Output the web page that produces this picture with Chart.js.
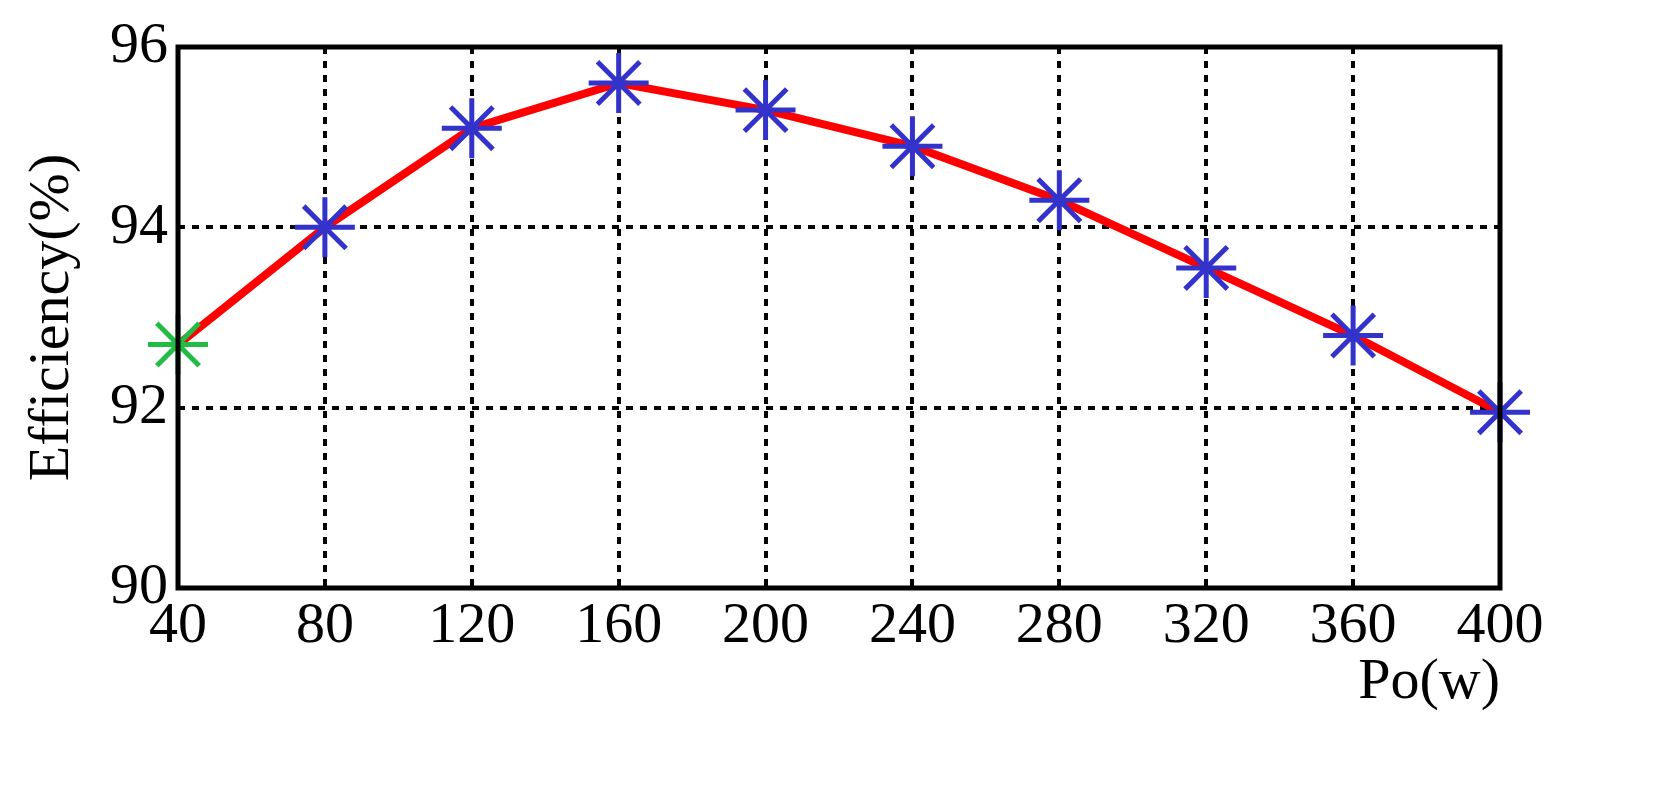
<!DOCTYPE html>
<html>
<head>
<meta charset="utf-8">
<script src="https://cdn.jsdelivr.net/npm/chart.js@4"></script>
<style>
  html, body { margin: 0; padding: 0; background: #fff; }
  #wrap { width: 1680px; height: 811px; }
</style>
</head>
<body>
<div id="wrap"><canvas id="eff"></canvas></div>
<script>
const power = [40, 80, 120, 160, 200, 240, 280, 320, 360, 400];
const efficiency = [92.7, 94.0, 95.1, 95.6, 95.3, 94.9, 94.3, 93.55, 92.8, 91.95];
const markerColors = ['#22bb44', '#3333cc', '#3333cc', '#3333cc', '#3333cc', '#3333cc', '#3333cc', '#3333cc', '#3333cc', '#3333cc'];

const points = power.map((p, i) => ({ x: p, y: efficiency[i] }));

// thick black frame around the plot area
const frame = {
    id: 'frame',
    afterDatasetsDraw(chart) {
        const a = chart.chartArea, ctx = chart.ctx;
        ctx.save();
        ctx.strokeStyle = '#000';
        ctx.lineWidth = 5;
        ctx.strokeRect(a.left, a.top, a.right - a.left, a.bottom - a.top);
        ctx.restore();
    }
};

const font = { family: '"Liberation Serif", "Times New Roman", serif', size: 58 };

new Chart(document.getElementById('eff'), {
    type: 'line',
    data: {
        datasets: [{
            data: points,
            borderColor: '#ff0000',
            borderWidth: 8,
            pointStyle: 'star',
            pointRadius: 30,
            pointBorderWidth: 5,
            pointBorderColor: markerColors,
            pointBackgroundColor: markerColors,
            tension: 0
        }]
    },
    options: {
        responsive: true,
        maintainAspectRatio: false,
        animation: false,
        clip: false,
        layout: { padding: { top: 47, right: 180, bottom: 93, left: 10 } },
        plugins: { legend: { display: false }, tooltip: { enabled: false } },
        scales: {
            x: {
                type: 'linear', min: 40, max: 400,
                afterFit(s) { s.height = 130; },
                ticks: { stepSize: 40, color: '#000', font: font, padding: 4 },
                grid: { color: '#000', lineWidth: 4, drawTicks: false },
                border: { display: false, dash: [7, 7] },
                title: { display: true, text: 'Po(w)', align: 'end', color: '#000', font: font, padding: 0 }
            },
            y: {
                min: 90, max: 96,
                afterFit(s) { s.width = 168; },
                ticks: { stepSize: 2, color: '#000', font: font, padding: 10 },
                grid: { color: '#000', lineWidth: 4, drawTicks: false },
                border: { display: false, dash: [7, 7] },
                title: { display: true, text: 'Efficiency(%)', color: '#000', font: font, padding: 8 }
            }
        }
    },
    plugins: [frame]
});
</script>
</body>
</html>
